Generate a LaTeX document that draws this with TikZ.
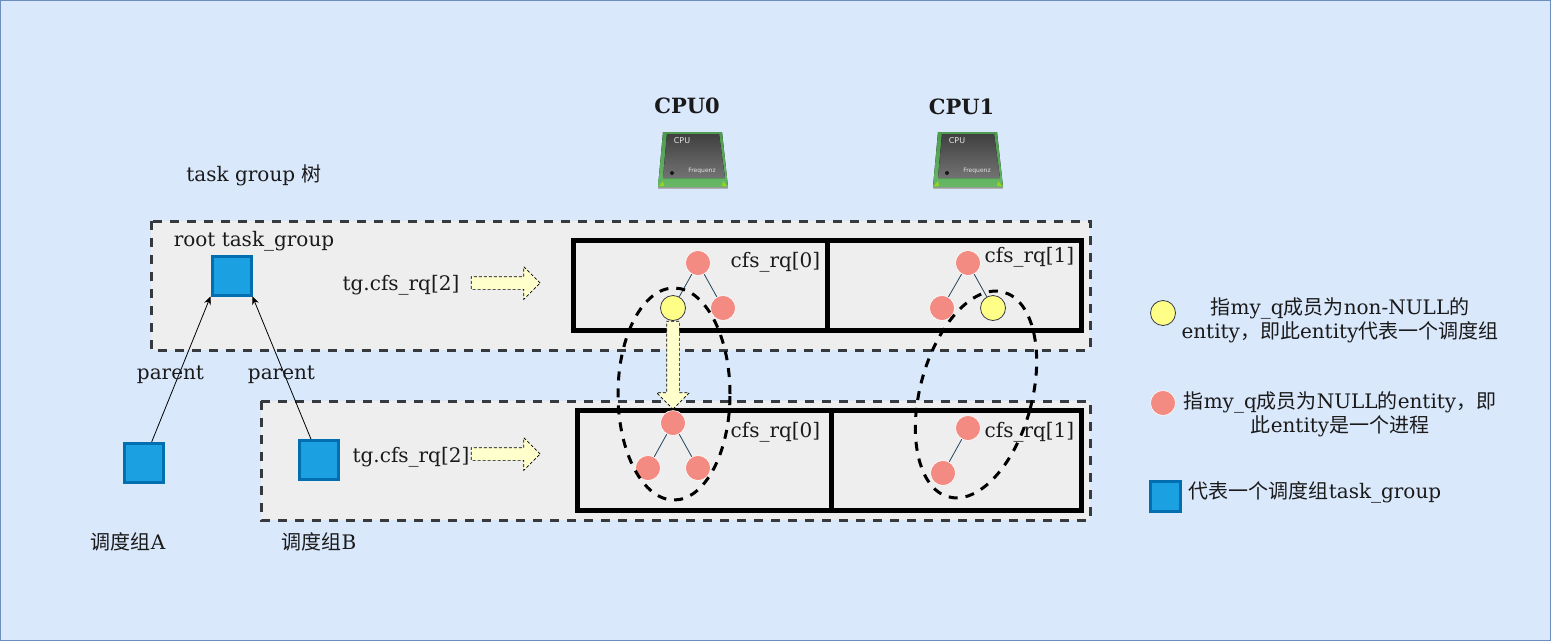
\documentclass[tikz,border=0pt]{standalone}
\usepackage{fontspec}
\setmainfont{DejaVu Serif}
\newfontfamily\cjk{Noto Sans CJK SC}
\newfontfamily\chipfont{DejaVu Sans}
\newcommand{\zh}[1]{{\cjk #1}}
\usepackage{xcolor}
\usepackage{tikz}
\usetikzlibrary{calc, shapes.geometric, shapes.arrows, positioning, arrows.meta}

\definecolor{pagebg}{HTML}{DAE8FC}
\definecolor{pageline}{HTML}{6C8EBF}
\definecolor{panelbg}{HTML}{EEEEEE}
\definecolor{panelline}{HTML}{36393D}
\definecolor{sqfill}{HTML}{1BA1E2}
\definecolor{sqline}{HTML}{006EAF}
\definecolor{procfill}{HTML}{F38B83}
\definecolor{grpfill}{HTML}{FFFF88}
\definecolor{arrowfill}{HTML}{FFFFCC}
\definecolor{edgeline}{HTML}{23445D}
\definecolor{inktext}{HTML}{1A1A1A}
\definecolor{chipgreen}{HTML}{66B866}
\definecolor{chiprim}{HTML}{4F9A50}

\tikzset{
    panelbox/.style={draw=panelline, fill=panelbg, line width=3pt, dash pattern=on 9pt off 8pt},
    rqbox/.style={draw=black, line width=5pt},
    tgsquare/.style={draw=sqline, fill=sqfill, line width=3pt, minimum size=39pt, inner sep=0pt},
    procnode/.style={circle, draw=white, fill=procfill, line width=.6pt, minimum size=25pt, inner sep=0pt},
    grpnode/.style={circle, draw=panelline, fill=grpfill, line width=.8pt, minimum size=25pt, inner sep=0pt},
    txtlabel/.style={text=inktext, font=\fontsize{20}{24}\selectfont, inner sep=0pt, align=center},
    treeedge/.style={draw=edgeline, line width=.8pt},
    groupring/.style={ellipse, draw=black, line width=3pt, dash pattern=on 9pt off 8pt, inner sep=0pt},
    blockarrow/.style={single arrow, draw=black, fill=arrowfill, line width=.7pt, densely dashed, inner sep=6pt, single arrow head extend=10pt, single arrow head indent=0pt},
    pics/cpuicon/.style={code={
        \fill[black!30] (-35,27) -- (35,27) -- (35,29) -- (-35,29) -- cycle;
        \fill[top color=chiprim, bottom color=chipgreen] (-30,-28) -- (29,-28) -- (35,27) -- (-35,27) -- cycle;
        \fill[top color=black!75, bottom color=black!55] (-26,-26) -- (26,-26) -- (32,18) -- (-30,18) -- cycle;
        \fill[yellow!60!green] (-34,26) -- (-30,21) -- (-29,26) -- cycle;
        \fill[yellow!60!green] (34,26) -- (30,21) -- (29,26) -- cycle;
        \fill[black!90] (-21,13) circle (2);
        \node[text=black!10, font=\chipfont\fontsize{8}{9}\selectfont, inner sep=0pt] (#1text) at (-11,-19) {CPU};
        \node[text=black!10, font=\chipfont\fontsize{6}{7}\selectfont, inner sep=0pt] (#1freq) at (9,11) {Frequenz};
    }},
}

\begin{document}
\begin{tikzpicture}[>={Stealth[length=8pt,width=7pt]}, x=1pt, y=-1pt]
    % fond de page
    \useasboundingbox (0,0) rectangle (1551,641);
    \draw[draw=pageline, fill=pagebg, line width=1pt] (.5,.5) rectangle (1550.5,640.5);

    % les deux zones grises
    \draw[panelbox] (151,221) rectangle (1090,350);
    \draw[panelbox] (261,401) rectangle (1090,520);

    % cfs_rq par cpu
    \draw[rqbox] (573,240) rectangle (1081,330) (827,240) -- (827,330);
    \draw[rqbox] (577,410) rectangle (1081,510) (831,410) -- (831,510);

    % titres
    \node[txtlabel, font=\fontsize{21}{24}\selectfont\bfseries] (cpuA) at (687,106) {CPU0};
    \node[txtlabel, font=\fontsize{21}{24}\selectfont\bfseries] (cpuB) at (961.5,107) {CPU1};
    \pic at (693,160) {cpuicon=chipA};
    \pic at (968,160) {cpuicon=chipB};
    \node[txtlabel] (treeTitle) at (254,175) {task group \zh{树}};
    \node[txtlabel] (rootTitle) at (254,241) {root task\_group};

    % carres task_group
    \node[tgsquare] (rootGroup) at (231.5,275.5) {};
    \node[tgsquare] (groupA) at (144,463) {};
    \node[tgsquare] (groupB) at (319,460) {};
    \draw[->, line width=.8pt] (groupA.70) -- (rootGroup.south west);
    \draw[->, line width=.8pt] (groupB.111) -- (rootGroup.south east);
    \node[txtlabel] (parentA) at (170.5,375) {parent};
    \node[txtlabel] (parentB) at (281.5,375) {parent};
    \node[txtlabel] (nameA) at (128,542) {\zh{调度组}A};
    \node[txtlabel] (nameB) at (319,542) {\zh{调度组}B};

    \node[txtlabel] (tgRootRq) at (401,285) {tg.cfs\_rq[2]};
    \node[txtlabel] (tgGroupRq) at (411,457) {tg.cfs\_rq[2]};
    \node[blockarrow, minimum height=69pt] (rootArrow) at (502.5,283) {};
    \node[blockarrow, minimum height=69pt] (groupArrow) at (502.5,454) {};

    % entites, ligne du haut
    \node[txtlabel] (rqTopA) at (775.5,262) {cfs\_rq[0]};
    \node[txtlabel] (rqTopB) at (1029.5,257) {cfs\_rq[1]};
    \node[procnode] (a0) at (698,263) {};
    \node[grpnode] (a1) at (673,308) {};
    \node[procnode] (a2) at (723,308) {};
    \node[procnode] (b0) at (968,263) {};
    \node[procnode] (b1) at (942,308) {};
    \node[grpnode] (b2) at (993,308) {};
    \draw[treeedge] (a0) -- (a1);
    \draw[treeedge] (a0) -- (a2);
    \draw[treeedge] (b0) -- (b1);
    \draw[treeedge] (b0) -- (b2);

    % entites, ligne du bas
    \node[txtlabel] (rqLowA) at (775.5,432) {cfs\_rq[0]};
    \node[txtlabel] (rqLowB) at (1029.5,432) {cfs\_rq[1]};
    \node[procnode] (c0) at (673,423) {};
    \node[procnode] (c1) at (648,468) {};
    \node[procnode] (c2) at (698,468) {};
    \node[procnode] (d0) at (968,428) {};
    \node[procnode] (d1) at (943,473) {};
    \draw[treeedge] (c0) -- (c1);
    \draw[treeedge] (c0) -- (c2);
    \draw[treeedge] (d0) -- (d1);

    % ellipses et fleche verticale
    \node[groupring, minimum width=112pt, minimum height=212pt] (ringA) at (674,394) {};
    \node[groupring, minimum width=112pt, minimum height=212pt, rotate=-15] (ringB) at (976,394.5) {};
    \node[blockarrow, minimum height=88pt, rotate=-90] (downArrow) at (673,362) {};

    % legende
    \node[grpnode] (legendGrp) at (1163,313) {};
    \node[txtlabel] (legendGrpText) at (1340,320) {\zh{指}my\_q\zh{成员为}non-NULL\zh{的}\\entity\zh{，即此}entity\zh{代表一个调度组}};
    \node[procnode] (legendProc) at (1163,403) {};
    \node[txtlabel] (legendProcText) at (1340,414) {\zh{指}my\_q\zh{成员为}NULL\zh{的}entity\zh{，即}\\\zh{此}entity\zh{是一个进程}};
    \node[tgsquare, minimum size=30pt] (legendSq) at (1165,496) {};
    \node[txtlabel] (legendSqText) at (1315,492) {\zh{代表一个调度组}task\_group};
\end{tikzpicture}
\end{document}
